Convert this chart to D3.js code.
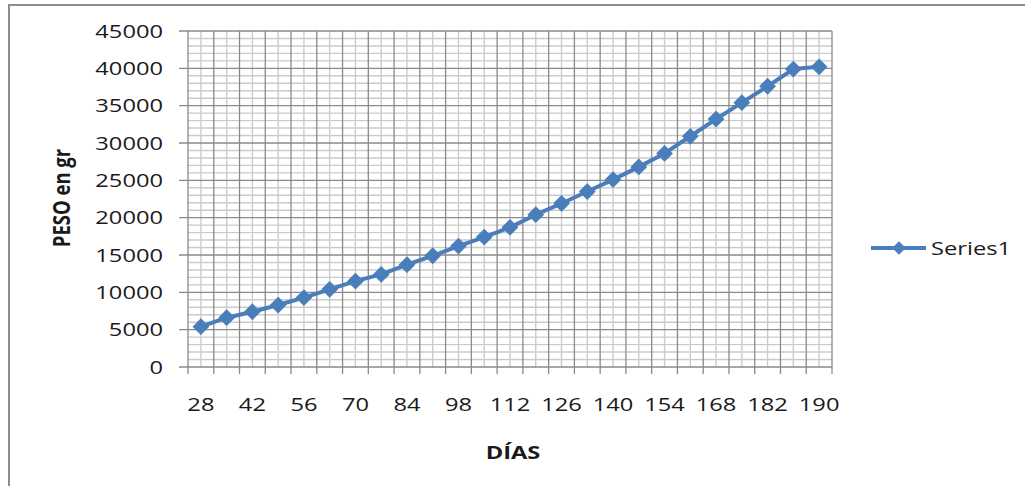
<!DOCTYPE html>
<html>
<head>
<meta charset="utf-8">
<script src="https://cdn.jsdelivr.net/npm/d3@7/dist/d3.min.js"></script>
<style>
  html, body { margin: 0; padding: 0; background: #fff; }
  svg { display: block; }
  text { font-family: "Open Sans", "Noto Sans", sans-serif; fill: #1a1a1a; }
</style>
</head>
<body>
<svg id="chart" width="1025" height="486"></svg>
<script>
// Days since birth (categories) and body weight in grams
const dias = [28, 35, 42, 49, 56, 63, 70, 77, 84, 91, 98, 105, 112, 119, 126, 133, 140, 147, 154, 161, 168, 175, 182, 189, 190];
const peso = [5400, 6600, 7400, 8300, 9300, 10400, 11500, 12400, 13700, 14900, 16200, 17400, 18700, 20400, 21900, 23500, 25100, 26800, 28600, 30900, 33200, 35400, 37600, 39900, 40200];
const yTicks = [0, 5000, 10000, 15000, 20000, 25000, 30000, 35000, 40000, 45000];
const yMinor = d3.range(0, 45001, 1000);
const seriesName = "Series1";
const xTitle = "DÍAS";
const yTitle = "PESO en gr";

const svg = d3.select("#chart");
const stretch = 1.28;          // text is drawn a little wider than tall
const fontSize = 18.5;
const blue = "#4a7ebb";

const plot = { left: 188, right: 832, top: 31, bottom: 367 };

const x = d3.scaleBand().domain(dias).range([plot.left, plot.right]).padding(0);
const bw = x.bandwidth();
const cx = d => x(d) + bw / 2;
const y = d3.scaleLinear().domain([0, 45000]).range([plot.bottom, plot.top]);

// Chart area frame
svg.append("rect")
  .attr("x", 9).attr("y", 5).attr("width", 1100).attr("height", 600)
  .attr("fill", "#fff").attr("stroke", "#8c8c8c").attr("stroke-width", 2);

const grid = svg.append("g");

// Minor horizontal gridlines (every 1000 g)
grid.selectAll("line.hmin").data(yMinor.filter(v => v % 5000 !== 0)).join("line")
  .attr("x1", plot.left).attr("x2", plot.right)
  .attr("y1", d => y(d)).attr("y2", d => y(d))
  .attr("stroke", "#cbcbcb").attr("stroke-width", 1.4);

// Minor vertical gridlines through each category centre
grid.selectAll("line.vmin").data(dias).join("line")
  .attr("x1", d => cx(d)).attr("x2", d => cx(d))
  .attr("y1", plot.top).attr("y2", plot.bottom)
  .attr("stroke", "#cbcbcb").attr("stroke-width", 1.4);

// Major vertical gridlines on category boundaries
const bounds = dias.map(d => x(d)).concat([x(dias[dias.length - 1]) + bw]);
grid.selectAll("line.vmaj").data(bounds).join("line")
  .attr("x1", d => d).attr("x2", d => d)
  .attr("y1", plot.top).attr("y2", plot.bottom + 7)
  .attr("stroke", "#8a8a8a").attr("stroke-width", 1.3);

// Major horizontal gridlines with outside tick marks
grid.selectAll("line.hmaj").data(yTicks).join("line")
  .attr("x1", plot.left - 9).attr("x2", plot.right)
  .attr("y1", d => y(d)).attr("y2", d => y(d))
  .attr("stroke", "#8a8a8a").attr("stroke-width", 1.3);

// Y tick labels
svg.append("g").selectAll("text").data(yTicks).join("text")
  .attr("transform", d => `translate(163,${y(d)}) scale(${stretch},1)`)
  .attr("text-anchor", "end").attr("dy", "0.36em")
  .style("font-size", fontSize + "px")
  .text(d => d);

// X tick labels on every other category
svg.append("g").selectAll("text").data(dias.filter((d, i) => i % 2 === 0)).join("text")
  .attr("transform", d => `translate(${cx(d)},404.5) scale(${stretch},1)`)
  .attr("text-anchor", "middle").attr("dy", "0.36em")
  .style("font-size", fontSize + "px")
  .text(d => d);

// Axis titles
svg.append("text")
  .attr("transform", `translate(513,452) scale(${stretch},1)`)
  .attr("text-anchor", "middle").attr("dy", "0.36em")
  .style("font-size", fontSize + "px").style("font-weight", "bold")
  .text(xTitle);

svg.append("text")
  .attr("transform", `translate(61,198) scale(${stretch},1) rotate(-90)`)
  .attr("text-anchor", "middle").attr("dy", "0.36em")
  .style("font-size", fontSize + "px").style("font-weight", "bold")
  .text(yTitle);

// Series line
const line = d3.line().x((d, i) => cx(dias[i])).y(d => y(d));
svg.append("path")
  .datum(peso)
  .attr("d", line)
  .attr("fill", "none").attr("stroke", blue)
  .attr("stroke-width", 4).attr("stroke-linejoin", "round");

// Diamond markers
const diamond = d3.symbol().type(d3.symbolSquare).size(118);
svg.append("g").selectAll("path").data(peso).join("path")
  .attr("transform", (d, i) => `translate(${cx(dias[i])},${y(d)}) rotate(45)`)
  .attr("d", diamond)
  .attr("fill", blue).attr("stroke", blue).attr("stroke-width", 1);

// Legend
const lg = svg.append("g");
lg.append("line")
  .attr("x1", 871).attr("x2", 926).attr("y1", 248).attr("y2", 248)
  .attr("stroke", blue).attr("stroke-width", 4);
lg.append("path")
  .attr("transform", "translate(899,248) rotate(45)")
  .attr("d", d3.symbol().type(d3.symbolSquare).size(90))
  .attr("fill", blue);
lg.append("text")
  .attr("transform", `translate(931,248) scale(${stretch},1)`)
  .attr("dy", "0.36em")
  .style("font-size", fontSize + "px")
  .text(seriesName);
</script>
</body>
</html>
